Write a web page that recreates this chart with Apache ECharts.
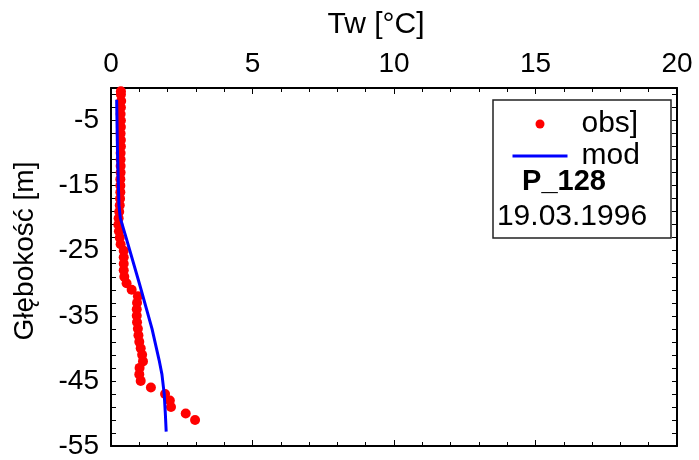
<!DOCTYPE html>
<html>
<head>
<meta charset="utf-8">
<script src="https://cdn.jsdelivr.net/npm/echarts@6/dist/echarts.min.js"></script>
<style>html,body{margin:0;padding:0;background:#fff}#c{width:699px;height:460px}</style>
</head>
<body>
<div id="c"></div>
<script>
// ---- data ----
var obsDepth = [-0.5,-1,-2,-3,-4,-5,-6,-7,-8,-9,-10,-11,-12,-13,-14,-15,-16,-17,-18,-19,-20,
  -21,-22,-23,-24,-25,-26,-27,-28,-29,-30,-31,-32,-33,-34,-35,-36,-37,-38,-39,-40,
  -41,-42,-43,-44,-45,-46,-47,-48,-49,-50,-51];
var obsTemp = [0.35,0.35,0.36,0.35,0.34,0.35,0.35,0.34,0.35,0.35,0.34,0.34,0.34,0.34,0.33,0.33,0.33,0.32,0.31,0.29,0.27,
  0.26,0.28,0.31,0.34,0.45,0.45,0.45,0.45,0.47,0.55,0.73,0.95,0.92,0.91,0.91,0.92,0.95,0.97,1.0,1.05,
  1.10,1.13,1.01,1.0,1.05,1.41,1.91,2.08,2.12,2.64,2.97];
var modDepth = [-1.8,-10,-18,-20,-22.5,-30,-37,-41.8,-44,-47,-50,-52.8];
var modTemp  = [0.20,0.23,0.28,0.33,0.50,1.00,1.45,1.70,1.80,1.88,1.92,1.95];
var xLabelValues = [0,5,10,15,20];
var yLabelValues = [-55,-45,-35,-25,-15,-5];
var yTickValues = [-55,-53,-51,-49,-47,-45,-43,-41,-39,-37,-35,-33,-31,-29,-27,-25,-23,-21,-19,-17,-15,-13,-11,-9,-7,-5,-3,-1];
var stationName = 'P_128';
var dateText = '19.03.1996';

// ---- chart ----
var FONT = '"Liberation Sans", Arial, sans-serif';
var chart = echarts.init(document.getElementById('c'), null, {renderer:'canvas'});
function pairs(xs, ys){ return xs.map(function(x,i){ return [x, ys[i]]; }); }
var line = {color:'#000', width:2};
var option = {
  animation:false,
  backgroundColor:'#fff',
  textStyle:{fontFamily:FONT},
  grid:{left:111, right:22, top:88, bottom:8, containLabel:false},
  xAxis:[{
    type:'value', position:'top', min:0, max:20, interval:5,
    name:'Tw [°C]', nameLocation:'middle', nameGap:48,
    nameTextStyle:{fontSize:30, color:'#000', fontFamily:FONT, padding:[0,36,0,0]},
    axisLine:{show:true, onZero:false, lineStyle:line},
    axisTick:{show:true, inside:true, length:6, lineStyle:{color:'#000', width:1}},
    minorTick:{show:true, splitNumber:5, length:4, lineStyle:{color:'#000', width:1}},
    axisLabel:{fontSize:28, color:'#000', margin:10, fontFamily:FONT, customValues:xLabelValues},
    splitLine:{show:false}
  },{
    type:'value', position:'bottom', min:0, max:20, interval:5,
    axisLine:{show:true, onZero:false, lineStyle:line},
    axisTick:{show:true, inside:true, length:6, lineStyle:{color:'#000', width:1}},
    minorTick:{show:true, splitNumber:5, length:4, lineStyle:{color:'#000', width:1}},
    axisLabel:{show:false}, splitLine:{show:false}
  }],
  yAxis:[{
    type:'value', position:'left', min:-55, max:0,
    name:'Głębokość [m]', nameLocation:'middle', nameGap:72,
    nameTextStyle:{fontSize:28, color:'#000', fontFamily:FONT, padding:[0,0,0,32]},
    axisLine:{show:true, onZero:false, lineStyle:line},
    axisTick:{show:true, inside:true, length:5, customValues:yTickValues, lineStyle:{color:'#000', width:1}},
    axisLabel:{fontSize:28, color:'#000', margin:12, fontFamily:FONT, customValues:yLabelValues},
    splitLine:{show:false}
  },{
    type:'value', position:'right', min:-55, max:0,
    axisLine:{show:true, onZero:false, lineStyle:line},
    axisTick:{show:true, inside:true, length:5, customValues:yTickValues, lineStyle:{color:'#000', width:1}},
    axisLabel:{show:false}, splitLine:{show:false}
  }],
  legend:{
    orient:'vertical', left:506, top:104, itemWidth:55, itemHeight:9, itemGap:2,
    data:[{name:'obs]', icon:'circle'}, {name:'mod', itemStyle:{opacity:0}, lineStyle:{width:3, color:'#0000ff'}}],
    textStyle:{fontSize:30, color:'#000', fontFamily:FONT, lineHeight:30, padding:[0,0,0,9]}
  },
  graphic:[
    {type:'rect', shape:{x:493, y:100, width:178, height:138}, style:{fill:'none', stroke:'#222', lineWidth:1.5}, z:100},
    {type:'text', x:564, y:182, style:{text:stationName, font:'bold 29px ' + FONT, fill:'#000', textAlign:'center', textVerticalAlign:'middle'}, z:100},
    {type:'text', x:572, y:217, style:{text:dateText, font:'30px ' + FONT, fill:'#000', textAlign:'center', textVerticalAlign:'middle'}, z:100}
  ],
  series:[{
    name:'obs]', type:'scatter', xAxisIndex:0, yAxisIndex:0,
    symbol:'circle', symbolSize:10, itemStyle:{color:'#ff0000', opacity:1},
    data:pairs(obsTemp, obsDepth), clip:true
  },{
    name:'mod', type:'line', xAxisIndex:0, yAxisIndex:0,
    symbol:'none', showSymbol:false, lineStyle:{color:'#0000ff', width:3}, itemStyle:{color:'#0000ff'},
    data:pairs(modTemp, modDepth), z:3
  }]
};
chart.setOption(option);
</script>
</body>
</html>
